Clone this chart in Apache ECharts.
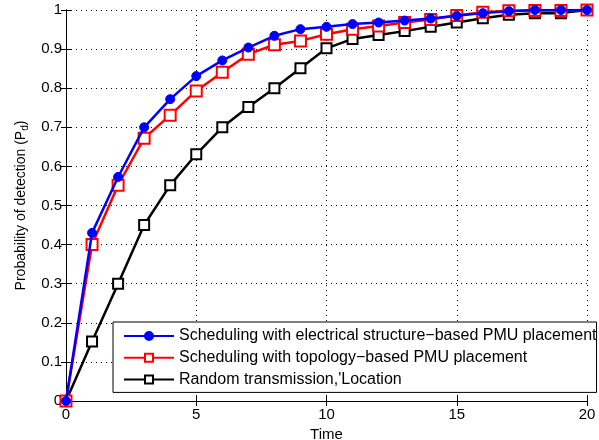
<!DOCTYPE html>
<html><head><meta charset="utf-8">
<script src="https://cdn.jsdelivr.net/npm/echarts@6/dist/echarts.min.js"></script>
<style>html,body{margin:0;padding:0;background:#fff}#c{width:599px;height:440px}</style>
</head><body><div id="c"></div>
<script>
var time = [0,1,2,3,4,5,6,7,8,9,10,11,12,13,14,15,16,17,18,19,20];
var electrical = [0,0.43,0.573,0.70,0.772,0.831,0.871,0.904,0.934,0.951,0.957,0.964,0.968,0.973,0.978,0.985,0.992,0.997,1.0,1.0,1.0];
var topology = [0,0.40,0.552,0.672,0.731,0.793,0.841,0.887,0.911,0.921,0.938,0.951,0.959,0.968,0.976,0.986,0.994,0.998,0.999,0.999,1.0];
var randomTx = [0,0.152,0.30,0.45,0.552,0.631,0.70,0.752,0.80,0.851,0.902,0.926,0.936,0.946,0.957,0.968,0.979,0.988,0.992,0.992,1.0];
var names = ['Scheduling with electrical structure\u2212based PMU placement','Scheduling with topology\u2212based PMU placement','Random transmission,\'Location'];
function pairs(v){return time.map(function(t,i){return [t,v[i]];});}
var font = 'Liberation Sans, Arial, sans-serif';
var chart = echarts.init(document.getElementById('c'));
var axLine = {show:true, lineStyle:{color:'#000', width:1}};
var split = {show:true, lineStyle:{color:'#000', type:[1,4], width:1}};
chart.setOption({
  animation:false,
  backgroundColor:'#fff',
  grid:{left:66, right:12, top:10, bottom:39, containLabel:false, outerBoundsMode:'none'},
  xAxis:[{type:'value', min:0, max:20, interval:5, position:'bottom',
    axisLine:axLine, axisTick:{show:true, inside:true, length:5, lineStyle:{color:'#000'}},
    axisLabel:{color:'#000', fontSize:15, fontFamily:font, margin:6},
    splitLine:split,
    name:'Time', nameLocation:'middle', nameGap:24, nameTextStyle:{color:'#000', fontSize:15, fontFamily:font}},
   {type:'value', min:0, max:20, interval:5, position:'top',
    axisLine:axLine, axisTick:{show:true, inside:true, length:5, lineStyle:{color:'#000'}},
    axisLabel:{show:false}, splitLine:{show:false}}],
  yAxis:[{type:'value', min:0, max:1, interval:0.1, position:'left',
    axisLine:axLine, axisTick:{show:true, inside:true, length:5, lineStyle:{color:'#000'}},
    axisLabel:{color:'#000', fontSize:15, fontFamily:font, margin:4},
    splitLine:split,
    name:'Probability of detection (P{sub|d})', nameLocation:'middle', nameGap:34,
    nameTextStyle:{color:'#000', fontSize:14, fontFamily:font, rich:{sub:{fontSize:10, verticalAlign:'bottom', padding:[8,0,0,0], fontFamily:font}}}},
   {type:'value', min:0, max:1, interval:0.1, position:'right',
    axisLine:axLine, axisTick:{show:true, inside:true, length:5, lineStyle:{color:'#000'}},
    axisLabel:{show:false}, splitLine:{show:false}}],
  legend:{show:true, orient:'vertical', left:113, top:322,
    backgroundColor:'#fff', borderColor:'#000', borderWidth:1, borderRadius:0,
    padding:[6,0,5,10], itemGap:5.7, itemWidth:50, itemHeight:10,
    textStyle:{color:'#000', fontSize:16, lineHeight:16, fontFamily:font, padding:[0,0,0,0]},
    data:names},
  series:[
    {name:names[2], type:'line', data:pairs(randomTx), symbol:'rect', symbolSize:10,
     lineStyle:{color:'#000', width:2.5}, itemStyle:{color:'#fff', borderColor:'#000', borderWidth:2}, z:3},
    {name:names[1], type:'line', data:pairs(topology), symbol:'rect', symbolSize:11,
     lineStyle:{color:'#f00', width:2.5}, itemStyle:{color:'#fff', borderColor:'#f00', borderWidth:2}, z:4},
    {name:names[0], type:'line', data:pairs(electrical), symbol:'circle', symbolSize:9,
     lineStyle:{color:'#00f', width:2.5}, itemStyle:{color:'#00f', borderColor:'#00f', borderWidth:1}, z:5}
  ]
});
</script></body></html>
